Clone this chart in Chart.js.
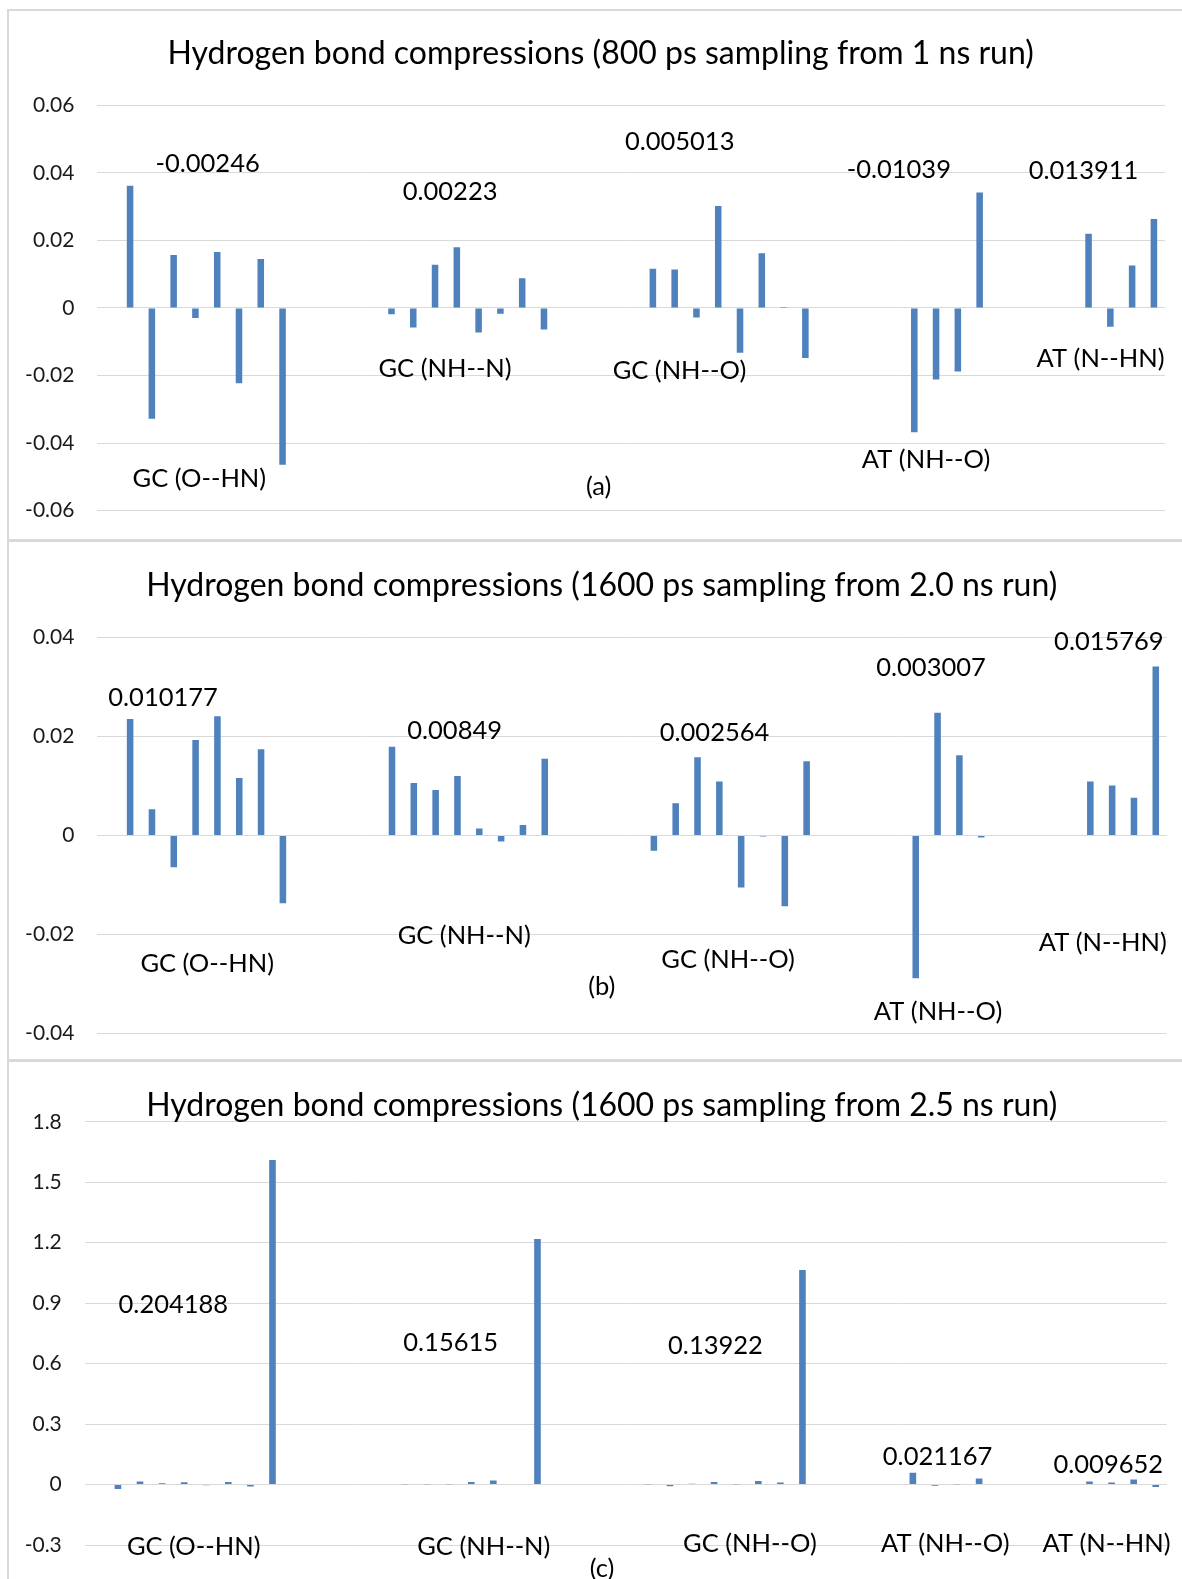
<!DOCTYPE html>
<html><head><meta charset="utf-8">
<script src="https://cdn.jsdelivr.net/npm/chart.js@4.4.1/dist/chart.umd.min.js"></script>
<style>
html,body{margin:0;padding:0;background:#fff;width:1182px;height:1579px;overflow:hidden;position:relative;}
.line{position:absolute;background:#d9d9d9;}
canvas{position:absolute;left:0;display:block;}
</style></head><body>
<div class="line" style="left:7px;top:9px;width:2px;height:1570px;"></div>
<div class="line" style="left:7px;top:9px;width:1175px;height:2px;"></div>
<div class="line" style="left:7px;top:539px;width:1175px;height:3px;"></div>
<div class="line" style="left:7px;top:1059px;width:1175px;height:3px;"></div>
<canvas id="ca" width="1182" height="551" style="top:0px"></canvas>
<canvas id="cb" width="1182" height="534" style="top:540px"></canvas>
<canvas id="cc" width="1182" height="524" style="top:1061px"></canvas>
<script>
// ---- categories ----
const groupNames = ['GC (O--HN)', 'GC (NH--N)', 'GC (NH--O)', 'AT (NH--O)', 'AT (N--HN)'];

// ---- panel (a): 800 ps sampling from 1 ns run ----
const a_GC_OHN = [0.0362, -0.0328, 0.0157, -0.0030, 0.0166, -0.0223, 0.0145, -0.0464];
const a_GC_NHN = [-0.0019, -0.0058, 0.0128, 0.0180, -0.0073, -0.0017, 0.0088, -0.0064];
const a_GC_NHO = [0.0116, 0.0114, -0.0028, 0.0302, -0.0133, 0.0162, 0.0003, -0.0148];
const a_AT_NHO = [-0.0368, -0.0212, -0.0188, 0.0342];
const a_AT_NHN = [0.0220, -0.0056, 0.0126, 0.0263];
const a_means = ['-0.00246', '0.00223', '0.005013', '-0.01039', '0.013911'];
const a_ticks = [-0.06, -0.04, -0.02, 0, 0.02, 0.04, 0.06];
const a_tickLabels = ['-0.06', '-0.04', '-0.02', '0', '0.02', '0.04', '0.06'];

// ---- panel (b): 1600 ps sampling from 2.0 ns run ----
const b_GC_OHN = [0.0235, 0.0053, -0.0064, 0.0193, 0.0241, 0.0116, 0.0174, -0.0137];
const b_GC_NHN = [0.0179, 0.0106, 0.0092, 0.0120, 0.0014, -0.0012, 0.0021, 0.0155];
const b_GC_NHO = [-0.0031, 0.0065, 0.0158, 0.0109, -0.0105, -0.0002, -0.0143, 0.0150];
const b_AT_NHO = [-0.0288, 0.0248, 0.0162, -0.0004];
const b_AT_NHN = [0.0109, 0.0101, 0.0076, 0.0341];
const b_means = ['0.010177', '0.00849', '0.002564', '0.003007', '0.015769'];
const b_ticks = [-0.04, -0.02, 0, 0.02, 0.04];
const b_tickLabels = ['-0.04', '-0.02', '0', '0.02', '0.04'];

// ---- panel (c): 1600 ps sampling from 2.5 ns run ----
const c_GC_OHN = [-0.0215, 0.015, 0.0066, 0.0116, -0.003, 0.013, -0.0099, 1.611];
const c_GC_NHN = [-0.002, -0.001, 0.001, -0.001, 0.013, 0.02, -0.002, 1.218];
const c_GC_NHO = [0.002, -0.008, 0.004, 0.013, 0.001, 0.018, 0.01, 1.064];
const c_AT_NHO = [0.058, -0.006, 0.002, 0.030];
const c_AT_NHN = [0.015, 0.010, 0.025, -0.012];
const c_means = ['0.204188', '0.15615', '0.13922', '0.021167', '0.009652'];
const c_ticks = [-0.3, 0, 0.3, 0.6, 0.9, 1.2, 1.5, 1.8];
const c_tickLabels = ['-0.3', '0', '0.3', '0.6', '0.9', '1.2', '1.5', '1.8'];

const titles = [
  'Hydrogen bond compressions (800 ps sampling from 1 ns run)',
  'Hydrogen bond compressions (1600 ps sampling from 2.0 ns run)',
  'Hydrogen bond compressions (1600 ps sampling from 2.5 ns run)'
];
const panelTags = ['(a)', '(b)', '(c)'];

// Build 49-slot category sequence: one empty slot, then groups separated by 4 empty slots
function buildSlots(groups) {
  const out = [null];
  groups.forEach((g, i) => {
    if (i > 0) out.push(null, null, null, null);
    g.forEach(v => out.push(v));
  });
  return out;
}

// Text annotation placements (slot index, data value) for each panel
const a_place = {
  title: [22.6, 0.0757], tag: [22.51, -0.0526],
  means: [[4.56, 0.0431], [15.69, 0.0347], [26.23, 0.0496], [36.29, 0.0411], [44.77, 0.0410]],
  names: [[4.18, -0.0504], [15.46, -0.0178], [26.22, -0.0184], [37.54, -0.0447], [45.55, -0.0147]]
};
const b_place = {
  title: [22.61, 0.0506], tag: [22.61, -0.0303],
  means: [[2.51, 0.0280], [15.87, 0.0214], [27.78, 0.0209], [37.7, 0.0340], [45.85, 0.0393]],
  names: [[4.53, -0.0258], [16.31, -0.0200], [28.4, -0.0249], [38.02, -0.0354], [45.57, -0.0214]]
};
const c_place = {
  title: [22.91, 1.888], tag: [22.92, -0.4143],
  means: [[3.51, 0.8957], [16.07, 0.7071], [28.06, 0.6942], [38.12, 0.1419], [45.85, 0.1037]],
  names: [[4.43, -0.3027], [17.57, -0.3027], [29.62, -0.2903], [38.47, -0.2903], [45.77, -0.2903]]
};

const TITLE_SIZE = 32, ANN_SIZE = 25.5, TICK_SIZE = 21;

function buildItems(idx, means, place) {
  const items = [{text: titles[idx], at: place.title, size: TITLE_SIZE}];
  means.forEach((m, i) => items.push({text: m, at: place.means[i], size: ANN_SIZE}));
  groupNames.forEach((n, i) => items.push({text: n, at: place.names[i], size: ANN_SIZE}));
  items.push({text: panelTags[idx], at: place.tag, size: ANN_SIZE});
  return items;
}

const annPlugin = {
  id: 'ann',
  afterDatasetsDraw(chart, args, opts) {
    const ctx = chart.ctx, xs = chart.scales.x, ys = chart.scales.y;
    ctx.save();
    ctx.fillStyle = '#000';
    ctx.textAlign = 'center';
    ctx.textBaseline = 'alphabetic';
    for (const it of opts.items) {
      ctx.font = it.size + 'px Lato';
      const px = xs.getPixelForValue(it.at[0]);
      const py = ys.getPixelForValue(it.at[1]) + it.size * 0.358;
      ctx.fillText(it.text, px, py);
    }
    ctx.restore();
  }
};

function makeChart(id, values, ticks, tickLabels, items, area) {
  const labels = values.map((_, i) => String(i));
  return new Chart(document.getElementById(id), {
    type: 'bar',
    data: {labels, datasets: [{data: values, backgroundColor: '#4f81bd', borderWidth: 0,
      barPercentage: 0.3, categoryPercentage: 1.0}]},
    options: {
      responsive: false, animation: false,
      layout: {autoPadding: false, padding: {left: 0, top: area.top, right: area.right, bottom: area.bottom}},
      plugins: {legend: {display: false}, tooltip: {enabled: false}, title: {display: false}, ann: {items}},
      scales: {
        x: {type: 'category', display: false, offset: true, grid: {display: false}},
        y: {
          min: ticks[0], max: ticks[ticks.length - 1],
          afterBuildTicks: s => { s.ticks = ticks.map(v => ({value: v})); },
          afterFit: s => { s.width = area.left; },
          grid: {color: '#d9d9d9', lineWidth: 1, drawTicks: false},
          border: {display: false},
          ticks: {padding: 23, color: '#1a1a1a', font: {family: 'Lato', size: TICK_SIZE},
            callback: (v, i) => tickLabels[i]}
        }
      }
    },
    plugins: [annPlugin]
  });
}

makeChart('ca', buildSlots([a_GC_OHN, a_GC_NHN, a_GC_NHO, a_AT_NHO, a_AT_NHN]), a_ticks, a_tickLabels,
  buildItems(0, a_means, a_place), {left: 97.4, top: 105.3, right: 17.2, bottom: 40.4});
makeChart('cb', buildSlots([b_GC_OHN, b_GC_NHN, b_GC_NHO, b_AT_NHO, b_AT_NHN]), b_ticks, b_tickLabels,
  buildItems(1, b_means, b_place), {left: 97.4, top: 97.4, right: 15.3, bottom: 40.4});
makeChart('cc', buildSlots([c_GC_OHN, c_GC_NHN, c_GC_NHO, c_AT_NHO, c_AT_NHN]), c_ticks, c_tickLabels,
  buildItems(2, c_means, c_place), {left: 84.8, top: 60.8, right: 15.2, bottom: 40});
</script>
</body></html>
